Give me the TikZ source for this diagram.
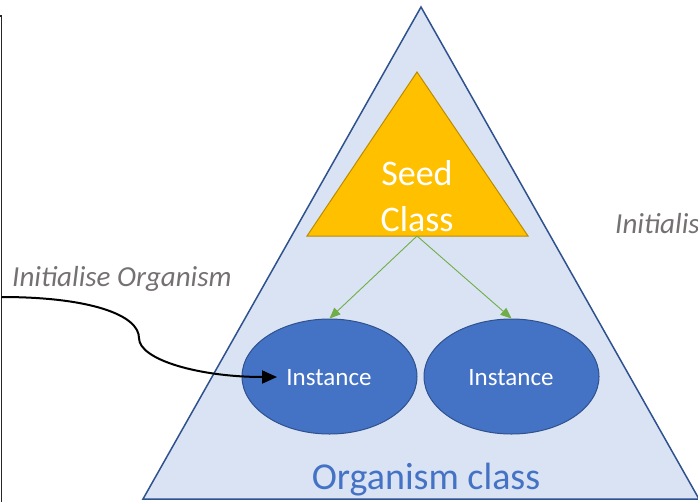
\documentclass[tikz,border=0pt]{standalone}
\usepackage{fontspec}
\setmainfont{Carlito}
\usetikzlibrary{arrows.meta,shapes.geometric,calc}
\definecolor{bigfill}{HTML}{DAE3F3}
\definecolor{bigdraw}{HTML}{2F528F}
\definecolor{seedfill}{HTML}{FFC000}
\definecolor{seeddraw}{HTML}{BC8C00}
\definecolor{instfill}{HTML}{4472C4}
\definecolor{instdraw}{HTML}{2F528F}
\definecolor{greenarrow}{HTML}{70AD47}
\definecolor{graytext}{HTML}{767171}
\tikzset{
  inststyle/.style={ellipse, draw=instdraw, fill=instfill, line width=1pt,
    minimum width=175pt, minimum height=115pt, inner sep=0pt},
  insttext/.style={text=white, font=\fontsize{25}{30}\selectfont, anchor=base, inner sep=0pt},
  seedtext/.style={text=white, font=\fontsize{36}{43}\selectfont, anchor=base, inner sep=0pt},
  labeltext/.style={text=graytext, font=\itshape\fontsize{29}{35}\selectfont, anchor=base west, inner sep=0pt},
  greenarr/.style={draw=greenarrow, line width=0.9pt, -{Triangle[length=11pt,width=9pt]}},
  blackarr/.style={draw=black, line width=2pt, -{Triangle[length=15pt,width=13pt]}}
}
\begin{document}
\begin{tikzpicture}[x=1pt,y=-1pt]
\useasboundingbox (0,0) rectangle (698,501);
\clip (0,0) rectangle (698,501);
% outer frame edge
\draw[line width=1.5pt, draw=black!85] (-5,16) -- (1.5,16) -- (1.5,510);
% big triangle
\coordinate (bigA) at (421,7);
\coordinate (bigB) at (143,499);
\coordinate (bigC) at (699,499);
\draw[fill=bigfill, draw=bigdraw, line width=1.5pt, line join=miter] (bigA) -- (bigB) -- (bigC) -- cycle;
% seed triangle
\coordinate (seedA) at (417,72);
\coordinate (seedB) at (307,236);
\coordinate (seedC) at (528,236);
\coordinate (seedbase) at (417,236);
\draw[fill=seedfill, draw=seeddraw, line width=1pt] (seedA) -- (seedB) -- (seedC) -- cycle;
\node[seedtext] (seedt) at (417,185) {Seed};
\node[seedtext] (classt) at (417,231) {Class};
% instances
\node[inststyle] (inst1) at (329.5,376.5) {};
\node[inststyle] (inst2) at (511.5,376.5) {};
\node[insttext] (inst1t) at (329,385) {Instance};
\node[insttext] (inst2t) at (511,385) {Instance};
% green arrows
\draw[greenarr] (seedbase) -- (inst1.north);
\draw[greenarr] (seedbase) -- (inst2.north);
% organism class label
\node[text=instfill, font=\fontsize{38}{45}\selectfont, anchor=base, inner sep=0pt] (orgt) at (426,489) {Organism class};
% left label and connector
\node[labeltext] (initl) at (12,286) {Initialise Organism};
\node[labeltext] (initr) at (615,233) {Initialise Organism};
\coordinate (cstart) at (1.5,297);
\coordinate (ckink) at (139,338);
\coordinate (ctip) at (277,377);
\draw[blackarr] (cstart) .. controls (90,297) and (139,315) .. (ckink)
  .. controls (139,360) and (200,377) .. (ctip);
\end{tikzpicture}
\end{document}
